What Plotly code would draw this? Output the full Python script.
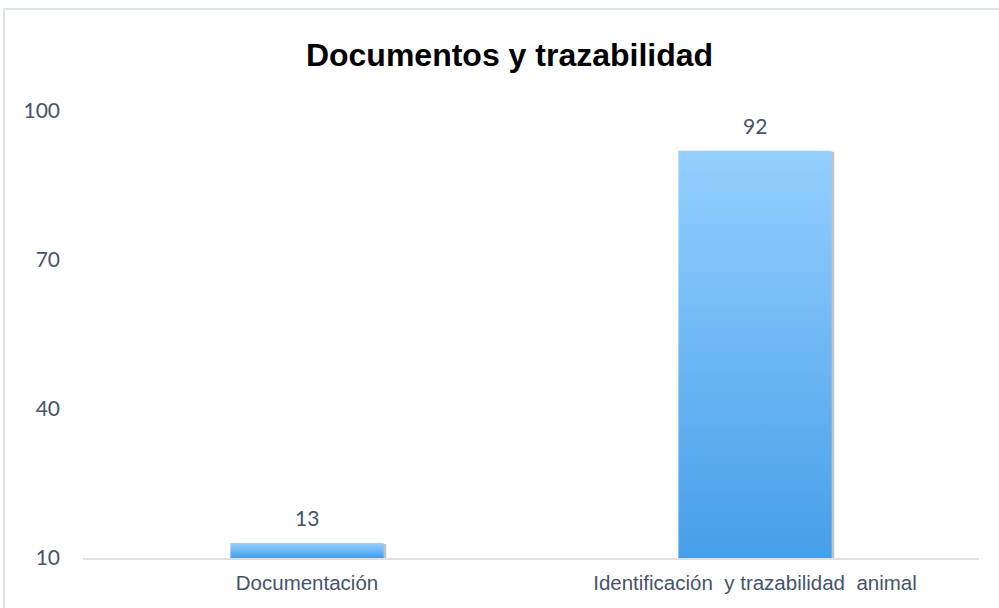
import plotly.graph_objects as go

categories = ["Documentación", "Identificación  y trazabilidad  animal"]
values = [13, 92]
y_ticks = [10, 40, 70, 100]
title_text = "Documentos y trazabilidad"

BASE = 10
BAR_W = 0.342
TEXT_COLOR = "#44546A"
GRAD = [[0.0, "#469FE8"], [1.0, "#94CFFF"]]

fig = go.Figure()

for i, (cat, v) in enumerate(zip(categories, values)):
    xs = [i - BAR_W / 2, i + BAR_W / 2]
    # drop shadow
    fig.add_trace(go.Scatter(
        x=[xs[0] + 0.004, xs[1] + 0.006, xs[1] + 0.006, xs[0] + 0.004, xs[0] + 0.004],
        y=[BASE - 0.55, BASE - 0.55, v - 0.2, v - 0.2, BASE - 0.55],
        fill="toself", mode="lines", line=dict(width=0),
        fillcolor="rgba(120,120,120,0.45)", hoverinfo="skip", showlegend=False,
        cliponaxis=False,
    ))
    fig.add_trace(go.Scatter(
        x=[xs[0], xs[1], xs[1], xs[0], xs[0]],
        y=[BASE, BASE, v, v, BASE],
        fill="toself", mode="lines", line=dict(width=0),
        fillgradient=dict(type="vertical", colorscale=GRAD, start=BASE, stop=v),
        name=cat, showlegend=False, cliponaxis=False,
    ))

annotations = [
    dict(x=i, y=v, xref="x", yref="y", text=str(v), showarrow=False,
         yanchor="bottom", yshift=11,
         font=dict(family="Lato, Open Sans, sans-serif", size=21, color=TEXT_COLOR))
    for i, v in enumerate(values)
]

fig.update_layout(
    width=999, height=608,
    margin=dict(l=83, r=20, t=111, b=50),
    paper_bgcolor="white", plot_bgcolor="white",
    title=dict(text=f"<b>{title_text}</b>", x=0.51, xanchor="center", y=0.91, yanchor="middle",
               font=dict(family="Liberation Sans, Arial, sans-serif", size=32, color="#000000")),
    xaxis=dict(
        range=[-0.5, len(categories) - 0.5],
        tickmode="array", tickvals=list(range(len(categories))), ticktext=categories,
        showgrid=False, zeroline=False, showline=True, linecolor="#DDE1E6", linewidth=2,
        ticks="", ticklabelstandoff=5,
        tickfont=dict(family="Liberation Sans, Arial, sans-serif", size=20.5, color=TEXT_COLOR),
    ),
    yaxis=dict(
        range=[BASE, 100], tickmode="array", tickvals=y_ticks,
        showgrid=False, zeroline=False, showline=False, ticks="",
        ticklabelstandoff=22,
        tickfont=dict(family="Lato, Open Sans, sans-serif", size=21, color=TEXT_COLOR),
    ),
    annotations=annotations,
    shapes=[dict(type="rect", xref="paper", yref="paper",
                 x0=(4 - 83) / 896, x1=(1010 - 83) / 896,
                 y0=(558 - 620) / 447, y1=(558 - 9) / 447,
                 line=dict(color="#DDE3EA", width=2), layer="below")],
)

fig.write_html("out.html", config={"displayModeBar": False},
               post_script="document.body.style.margin='0';document.body.style.overflow='hidden';")
